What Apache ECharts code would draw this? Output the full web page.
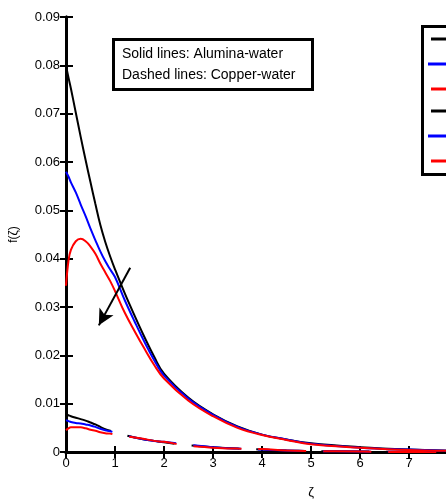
<!DOCTYPE html>
<html><head><meta charset="utf-8">
<script src="https://cdn.jsdelivr.net/npm/echarts@6/dist/echarts.min.js"></script>
<style>html,body{margin:0;padding:0;overflow:hidden;background:#fff}#c{width:620px;height:504px}</style>
</head><body><div id="c"></div>
<script>
// eta positions
var eta = [0,0.05,0.1,0.2,0.3,0.4,0.5,0.6,0.7,0.8,0.9,1.0,1.2,1.4,1.6,1.8,2.0,2.5,3.0,3.5,4.0,4.5,5,6,7,8,9,10];
// solid lines (Alumina-water)
var solidBlack = [0.080,0.0775,0.0752,0.0702,0.0652,0.0604,0.0558,0.0513,0.0470,0.0435,0.0405,0.0378,0.0328,0.0282,0.0238,0.0197,0.0162,0.0112,0.0078,0.0053,0.0036,0.0026,0.0018,0.0010,0.0005,0.0002,0.0001,0.0001];
var solidBlue  = [0.058,0.057,0.0558,0.0537,0.0512,0.0488,0.0462,0.0438,0.0415,0.0395,0.0378,0.0362,0.0314,0.0270,0.0228,0.0190,0.0158,0.011,0.0077,0.0052,0.0036,0.0026,0.0017,0.0009,0.0005,0.0002,0.0001,0.0001];
var solidRed   = [0.0344,0.0395,0.0418,0.0436,0.0441,0.0436,0.0425,0.041,0.039,0.0372,0.0354,0.0333,0.0288,0.0250,0.0214,0.0180,0.0152,0.0106,0.0074,0.005,0.0035,0.0025,0.0016,0.0009,0.0004,0.0002,0.0001,0];
// dashed lines (Copper-water)
var dashBlack = [0.0078,0.0076,0.0074,0.0071,0.0068,0.0065,0.0061,0.0057,0.0052,0.0047,0.0044,0.0041,0.0035,0.003,0.0026,0.0023,0.002,0.0014,0.001,0.0007,0.0005,0.0003,0.0002,0.0001,0,0,0,0];
var dashBlue  = [0.0066,0.0064,0.0062,0.006,0.0059,0.0057,0.0055,0.0052,0.0048,0.0045,0.0043,0.004,0.0035,0.003,0.0026,0.0023,0.0021,0.0015,0.001,0.0007,0.0005,0.0003,0.0002,0.0001,0,0,0,0];
var dashRed   = [0.0045,0.0049,0.0051,0.0051,0.0051,0.0049,0.0046,0.0044,0.0041,0.0039,0.0038,0.0036,0.0033,0.003,0.0027,0.0023,0.0021,0.0013,0.0009,0.0007,0.0006,0.0003,0.0002,0.0001,0,0,0,0];
var seriesNames = ['λ = 0.5','λ = 1.0','λ = 1.5','λ = 0.5','λ = 1.0','λ = 1.5'];
var colors = ['#000000','#0000ff','#ff0000','#000000','#0000ff','#ff0000'];
var yTicks = {min:0, max:0.09, interval:0.01};
var xTicks = {min:0, max:10, interval:1};
var arrowFrom = [1.31, 0.0381];
var arrowTo = [0.67, 0.0262];
var note1 = 'Solid lines: Alumina-water';
var note2 = 'Dashed lines: Copper-water';

function pairs(v){ return eta.map(function(e,i){ return [e, v[i]]; }); }
var allData = [solidBlack, solidBlue, solidRed, dashBlack, dashBlue, dashRed];
var FONT = 'Liberation Sans, Arial, sans-serif';

var series = allData.map(function(d,i){
  return {
    type:'line', name: seriesNames[i], data: pairs(d), showSymbol:false, smooth:0.4,
    lineStyle:{color:colors[i], width:2, type: i<3 ? 'solid' : [48,17]},
    itemStyle:{color:colors[i]}, z: i<3 ? 3 : 2, animation:false
  };
});
series[0].markLine = {
  silent:true, symbol:['none','arrow'], symbolSize:[12,16], animation:false,
  lineStyle:{color:'#000', width:2, type:'solid'}, label:{show:false},
  data:[[{coord:arrowFrom},{coord:arrowTo}]]
};

var ly = [39,64,89,111,136,161];
var graphics = [
  {type:'rect', shape:{x:113.5, y:39.5, width:199, height:50}, style:{fill:'#fff', stroke:'#000', lineWidth:3}, z:10},
  {type:'text', x:122, y:54, z:11, style:{text:note1, font:'14px '+FONT, fill:'#000', textVerticalAlign:'middle'}},
  {type:'text', x:122, y:75, z:11, style:{text:note2, font:'14px '+FONT, fill:'#000', textVerticalAlign:'middle'}},
  {type:'rect', shape:{x:422.5, y:26.5, width:170, height:148}, style:{fill:'#fff', stroke:'#000', lineWidth:3}, z:10}
];
for (var i=0;i<6;i++){
  graphics.push({type:'line', z:12, shape:{x1:(i%3===1?428:431), y1:ly[i], x2:449, y2:ly[i]}, style:{stroke:colors[i], lineWidth:3}});
  graphics.push({type:'text', z:12, x:454, y:ly[i], style:{text:seriesNames[i], font:'13px '+FONT, fill:'#000', textVerticalAlign:'middle'}});
}

var chart = echarts.init(document.getElementById('c'));
chart.setOption({
  backgroundColor:'#fff',
  animation:false,
  grid:{left:66, top:17, width:490, height:439},
  xAxis:[{
    type:'value', min:xTicks.min, max:xTicks.max, interval:xTicks.interval,
    name:'ζ', nameLocation:'middle', nameGap:34, nameTextStyle:{fontFamily:FONT, fontSize:13, color:'#000'},
    axisLine:{lineStyle:{color:'#000', width:3}},
    axisTick:{inside:true, length:6, lineStyle:{color:'#000', width:2}},
    axisLabel:{fontFamily:FONT, fontSize:13, color:'#000', margin:5},
    splitLine:{show:false}
  },{
    type:'value', position:'top', min:xTicks.min, max:xTicks.max, interval:xTicks.interval,
    axisLine:{lineStyle:{color:'#000', width:3}},
    axisTick:{inside:true, length:6, lineStyle:{color:'#000', width:2}},
    axisLabel:{show:false}, splitLine:{show:false}
  }],
  yAxis:[{
    type:'value', min:yTicks.min, max:yTicks.max, interval:yTicks.interval,
    name:'f(ζ)', nameLocation:'middle', nameGap:46, nameRotate:90, nameTextStyle:{fontFamily:FONT, fontSize:12, color:'#000'},
    axisLine:{lineStyle:{color:'#000', width:3}},
    axisTick:{inside:true, length:7, lineStyle:{color:'#000', width:2}},
    axisLabel:{fontFamily:FONT, fontSize:13, color:'#000', margin:6},
    splitLine:{show:false}
  },{
    type:'value', position:'right', min:yTicks.min, max:yTicks.max, interval:yTicks.interval,
    axisLine:{show:true, lineStyle:{color:'#000', width:3}},
    axisTick:{inside:true, length:6, lineStyle:{color:'#000', width:2}},
    axisLabel:{show:false}, splitLine:{show:false}
  }],
  series: series,
  graphic: graphics
});
</script></body></html>
